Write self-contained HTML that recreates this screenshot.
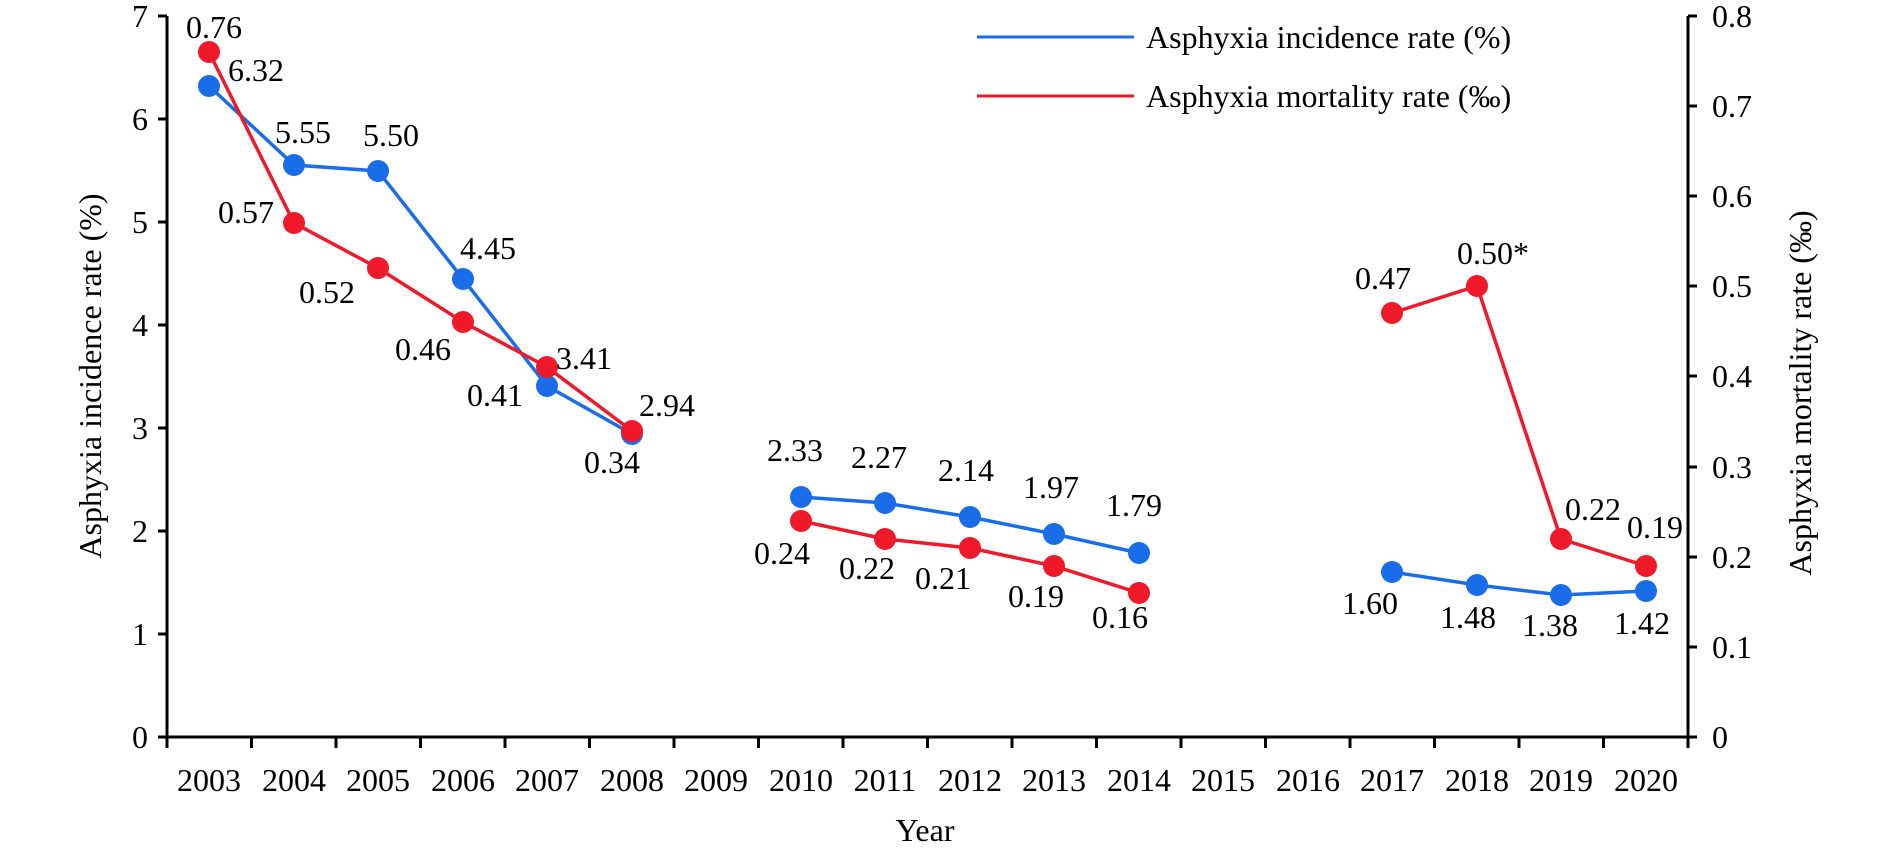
<!DOCTYPE html>
<html><head><meta charset="utf-8"><style>
html,body{margin:0;padding:0;background:#fff;}
svg{display:block;}
text{font-family:"Liberation Serif",serif;fill:#000;}
.t{font-size:32px;}
.d{font-size:32px;text-anchor:middle;dominant-baseline:central;}
</style></head><body>
<svg width="1890" height="853" viewBox="0 0 1890 853" xmlns="http://www.w3.org/2000/svg">
<g stroke="#000" stroke-width="3" fill="none">
<line x1="167" y1="16" x2="167" y2="737"/>
<line x1="1688" y1="16" x2="1688" y2="737"/>
<line x1="158" y1="737" x2="1688" y2="737"/>
<path d="M158 737H167M158 634H167M158 531H167M158 428H167M158 325H167M158 222H167M158 119H167M158 16H167"/>
<path d="M1688 737H1697M1688 647H1697M1688 557H1697M1688 467H1697M1688 376H1697M1688 286H1697M1688 196H1697M1688 106H1697M1688 16H1697"/>
<path d="M167 737V748M251.5 737V748M336 737V748M420.5 737V748M505 737V748M589.5 737V748M674 737V748M758.5 737V748M843 737V748M927.5 737V748M1012 737V748M1096.5 737V748M1181 737V748M1265.5 737V748M1350 737V748M1434.5 737V748M1519 737V748M1603.5 737V748M1688 737V748"/>
</g>
<g class="t" text-anchor="end" dominant-baseline="central">
<text x="148" y="737">0</text><text x="148" y="634">1</text><text x="148" y="531">2</text><text x="148" y="428">3</text><text x="148" y="325">4</text><text x="148" y="222">5</text><text x="148" y="119">6</text><text x="148" y="16">7</text>
</g>
<g class="t" text-anchor="start" dominant-baseline="central">
<text x="1712" y="737">0</text><text x="1712" y="647">0.1</text><text x="1712" y="557">0.2</text><text x="1712" y="467">0.3</text><text x="1712" y="376">0.4</text><text x="1712" y="286">0.5</text><text x="1712" y="196">0.6</text><text x="1712" y="106">0.7</text><text x="1712" y="16">0.8</text>
</g>
<g class="t" text-anchor="middle" dominant-baseline="central">
<text x="209" y="780">2003</text><text x="294" y="780">2004</text><text x="378" y="780">2005</text><text x="463" y="780">2006</text><text x="547" y="780">2007</text><text x="632" y="780">2008</text><text x="716" y="780">2009</text><text x="801" y="780">2010</text><text x="885" y="780">2011</text><text x="970" y="780">2012</text><text x="1054" y="780">2013</text><text x="1139" y="780">2014</text><text x="1223" y="780">2015</text><text x="1308" y="780">2016</text><text x="1392" y="780">2017</text><text x="1477" y="780">2018</text><text x="1561" y="780">2019</text><text x="1646" y="780">2020</text>
<text x="925" y="830">Year</text>
<text transform="translate(90,376) rotate(-90)">Asphyxia incidence rate (%)</text>
<text transform="translate(1800,393) rotate(-90)">Asphyxia mortality rate (‰)</text>
</g>
<line x1="977" y1="37" x2="1134" y2="37" stroke="#1a6de8" stroke-width="3"/>
<line x1="977" y1="96" x2="1134" y2="96" stroke="#f0192a" stroke-width="3"/>
<text class="t" x="1146" y="37" dominant-baseline="central">Asphyxia incidence rate (%)</text>
<text class="t" x="1146" y="96" dominant-baseline="central">Asphyxia mortality rate (‰)</text>
<g stroke="#1a6de8" stroke-width="3.5" fill="none">
<polyline points="209,86 294,165 378,171 463,279 547,386 632,434"/>
<polyline points="801,497 885,503 970,517 1054,534 1139,553"/>
<polyline points="1392,572 1477,585 1561,595 1646,591"/>
</g>
<g fill="#1a6de8">
<circle cx="209" cy="86" r="11"/><circle cx="294" cy="165" r="11"/><circle cx="378" cy="171" r="11"/><circle cx="463" cy="279" r="11"/><circle cx="547" cy="386" r="11"/><circle cx="632" cy="434" r="11"/>
<circle cx="801" cy="497" r="11"/><circle cx="885" cy="503" r="11"/><circle cx="970" cy="517" r="11"/><circle cx="1054" cy="534" r="11"/><circle cx="1139" cy="553" r="11"/>
<circle cx="1392" cy="572" r="11"/><circle cx="1477" cy="585" r="11"/><circle cx="1561" cy="595" r="11"/><circle cx="1646" cy="591" r="11"/>
</g>
<g stroke="#f0192a" stroke-width="3.5" fill="none">
<polyline points="209,52 294,223 378,268 463,322 547,367 632,431"/>
<polyline points="801,521 885,539 970,548 1054,566 1139,593"/>
<polyline points="1392,313 1477,286 1561,539 1646,566"/>
</g>
<g fill="#f0192a">
<circle cx="209" cy="52" r="11"/><circle cx="294" cy="223" r="11"/><circle cx="378" cy="268" r="11"/><circle cx="463" cy="322" r="11"/><circle cx="547" cy="367" r="11"/><circle cx="632" cy="431" r="11"/>
<circle cx="801" cy="521" r="11"/><circle cx="885" cy="539" r="11"/><circle cx="970" cy="548" r="11"/><circle cx="1054" cy="566" r="11"/><circle cx="1139" cy="593" r="11"/>
<circle cx="1392" cy="313" r="11"/><circle cx="1477" cy="286" r="11"/><circle cx="1561" cy="539" r="11"/><circle cx="1646" cy="566" r="11"/>
</g>
<g class="d">
<text x="214" y="27">0.76</text><text x="256" y="70">6.32</text><text x="303" y="132">5.55</text><text x="391" y="135">5.50</text>
<text x="246" y="212">0.57</text><text x="488" y="248">4.45</text><text x="327" y="292">0.52</text><text x="423" y="349">0.46</text>
<text x="495" y="395">0.41</text><text x="584" y="358">3.41</text><text x="667" y="405">2.94</text><text x="612" y="462">0.34</text>
<text x="795" y="450">2.33</text><text x="879" y="457">2.27</text><text x="966" y="470">2.14</text><text x="1051" y="487">1.97</text><text x="1134" y="505">1.79</text>
<text x="782" y="553">0.24</text><text x="867" y="568">0.22</text><text x="943" y="578">0.21</text><text x="1036" y="596">0.19</text><text x="1120" y="617">0.16</text>
<text x="1383" y="278">0.47</text><text x="1493" y="253">0.50*</text><text x="1593" y="509">0.22</text><text x="1655" y="527">0.19</text>
<text x="1370" y="603">1.60</text><text x="1468" y="617">1.48</text><text x="1550" y="625">1.38</text><text x="1642" y="623">1.42</text>
</g>
</svg>
</body></html>
